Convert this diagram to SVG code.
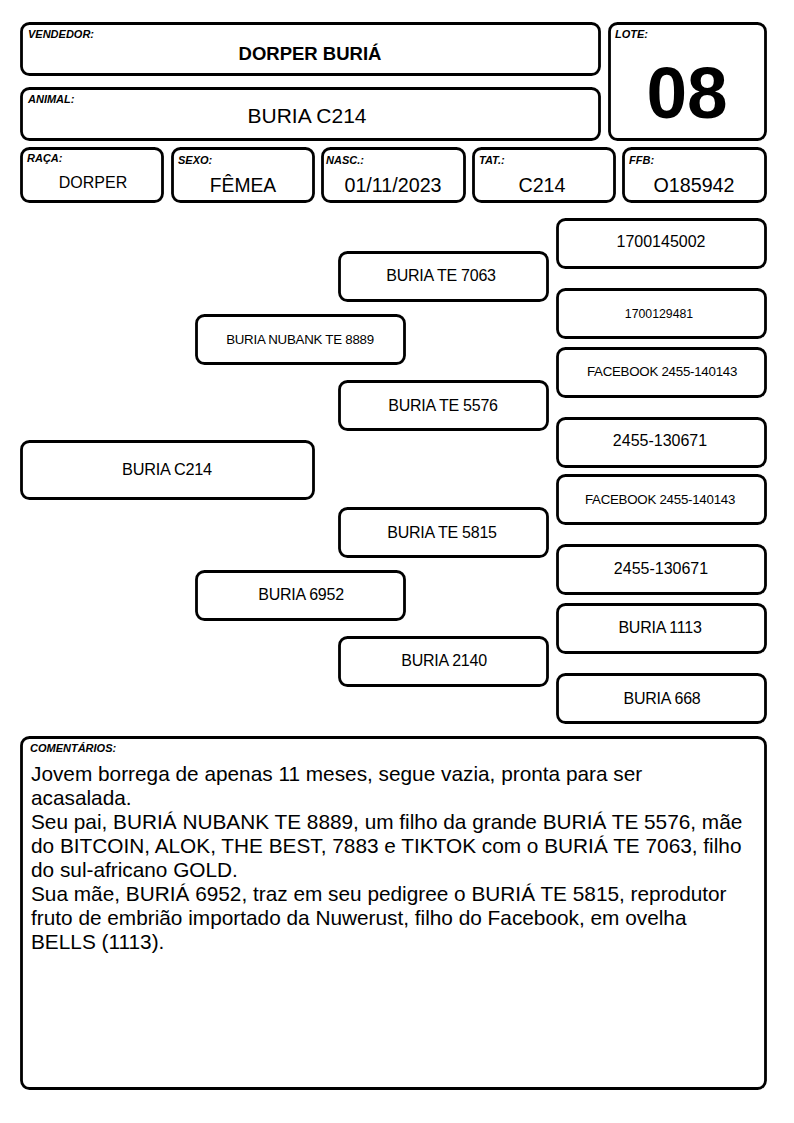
<svg xmlns="http://www.w3.org/2000/svg" width="794" height="1123" viewBox="0 0 794 1123">
<style>
.b{fill:#fff;stroke:#000;stroke-width:2.8}
.lbl{font-family:"Liberation Sans",Arial,sans-serif;font-size:11px;font-weight:bold;font-style:italic;fill:#000}
.t{font-family:"Liberation Sans",Arial,sans-serif;fill:#000;text-anchor:middle}
.p{font-family:"Liberation Sans",Arial,sans-serif;fill:#000;text-anchor:middle;letter-spacing:-0.25px}
.c{font-family:"Liberation Sans",Arial,sans-serif;font-size:20.8px;fill:#000}
</style>
<rect width="794" height="1123" fill="#fff"/>
<g id="vendedor"><rect class="b" x="21.5" y="23.5" width="578" height="51" rx="8"/><text class="lbl" x="28" y="38">VENDEDOR:</text><text class="t" x="310" y="60" font-size="18.5" font-weight="bold">DORPER BURIÁ</text></g>
<g id="animal"><rect class="b" x="21.5" y="88.5" width="578" height="51" rx="8"/><text class="lbl" x="28" y="103">ANIMAL:</text><text class="t" x="307" y="123" font-size="21">BURIA C214</text></g>
<g id="lote"><rect class="b" x="609.5" y="23.5" width="156" height="116" rx="8"/><text class="lbl" x="615" y="38">LOTE:</text><text class="t" x="687" y="118" font-size="73" font-weight="bold">08</text></g>
<g id="raca"><rect class="b" x="21.5" y="148.5" width="141" height="53" rx="8"/><text class="lbl" x="27" y="162">RAÇA:</text><text class="t" x="93" y="188" font-size="16">DORPER</text></g>
<g id="sexo"><rect class="b" x="172.5" y="148.5" width="141" height="53" rx="8"/><text class="lbl" x="178" y="164">SEXO:</text><text class="t" x="243" y="192" font-size="19.3">FÊMEA</text></g>
<g id="nasc"><rect class="b" x="322.5" y="148.5" width="142" height="53" rx="8"/><text class="lbl" x="326" y="164">NASC.:</text><text class="t" x="393" y="192" font-size="19.7">01/11/2023</text></g>
<g id="tat"><rect class="b" x="473.5" y="148.5" width="141" height="53" rx="8"/><text class="lbl" x="479" y="164">TAT.:</text><text class="t" x="542" y="192" font-size="19.7">C214</text></g>
<g id="ffb"><rect class="b" x="623.5" y="148.5" width="142" height="53" rx="8"/><text class="lbl" x="629" y="164">FFB:</text><text class="t" x="694" y="192" font-size="19.7">O185942</text></g>

<g id="n-c214"><rect class="b" x="21.5" y="441.5" width="292" height="57" rx="8"/><text class="p" x="167" y="475" font-size="16.3">BURIA C214</text></g>
<g id="n-8889"><rect class="b" x="196.5" y="315.5" width="208" height="48" rx="8"/><text class="p" x="300" y="344" font-size="13.3">BURIA NUBANK TE 8889</text></g>
<g id="n-6952"><rect class="b" x="196.5" y="571.5" width="208" height="48" rx="8"/><text class="p" x="301" y="600" font-size="16">BURIA 6952</text></g>
<g id="n-7063"><rect class="b" x="339.5" y="252.5" width="208" height="48" rx="8"/><text class="p" x="441" y="281" font-size="16">BURIA TE 7063</text></g>
<g id="n-5576"><rect class="b" x="339.5" y="381.5" width="208" height="48" rx="8"/><text class="p" x="443" y="411" font-size="16">BURIA TE 5576</text></g>
<g id="n-5815"><rect class="b" x="339.5" y="508.5" width="208" height="48" rx="8"/><text class="p" x="442" y="538" font-size="16">BURIA TE 5815</text></g>
<g id="n-2140"><rect class="b" x="339.5" y="637.5" width="208" height="48" rx="8"/><text class="p" x="444" y="666" font-size="16">BURIA 2140</text></g>
<g id="n-1700145002"><rect class="b" x="557.5" y="219.5" width="208" height="48" rx="8"/><text class="t" x="661" y="247" font-size="16">1700145002</text></g>
<g id="n-1700129481"><rect class="b" x="557.5" y="289.5" width="208" height="48" rx="8"/><text class="t" x="659" y="318" font-size="12.3">1700129481</text></g>
<g id="n-fb1"><rect class="b" x="557.5" y="348.5" width="208" height="48" rx="8"/><text class="p" x="662" y="376" font-size="13.3">FACEBOOK 2455-140143</text></g>
<g id="n-2455a"><rect class="b" x="557.5" y="418.5" width="208" height="48" rx="8"/><text class="t" x="660" y="446" font-size="16">2455-130671</text></g>
<g id="n-fb2"><rect class="b" x="557.5" y="475.5" width="208" height="48" rx="8"/><text class="p" x="660" y="504" font-size="13.3">FACEBOOK 2455-140143</text></g>
<g id="n-2455b"><rect class="b" x="557.5" y="545.5" width="208" height="48" rx="8"/><text class="t" x="661" y="574" font-size="16">2455-130671</text></g>
<g id="n-1113"><rect class="b" x="557.5" y="604.5" width="208" height="48" rx="8"/><text class="p" x="660" y="633" font-size="16">BURIA 1113</text></g>
<g id="n-668"><rect class="b" x="557.5" y="674.5" width="208" height="48" rx="8"/><text class="p" x="662" y="704" font-size="16">BURIA 668</text></g>
<g id="connectors"></g>

<g id="comentarios"><rect class="b" x="21.5" y="737.5" width="744" height="351" rx="8"/><text class="lbl" x="30" y="752">COMENTÁRIOS:</text>
<text class="c"><tspan x="31" y="781">Jovem borrega de apenas 11 meses, segue vazia, pronta para ser</tspan><tspan x="31" y="805">acasalada.</tspan><tspan x="31" y="829">Seu pai, BURIÁ NUBANK TE 8889, um filho da grande BURIÁ TE 5576, mãe</tspan><tspan x="31" y="853">do BITCOIN, ALOK, THE BEST, 7883 e TIKTOK com o BURIÁ TE 7063, filho</tspan><tspan x="31" y="877">do sul-africano GOLD.</tspan><tspan x="31" y="901">Sua mãe, BURIÁ 6952, traz em seu pedigree o BURIÁ TE 5815, reprodutor</tspan><tspan x="31" y="925">fruto de embrião importado da Nuwerust, filho do Facebook, em ovelha</tspan><tspan x="31" y="949">BELLS (1113).</tspan></text></g>
</svg>
